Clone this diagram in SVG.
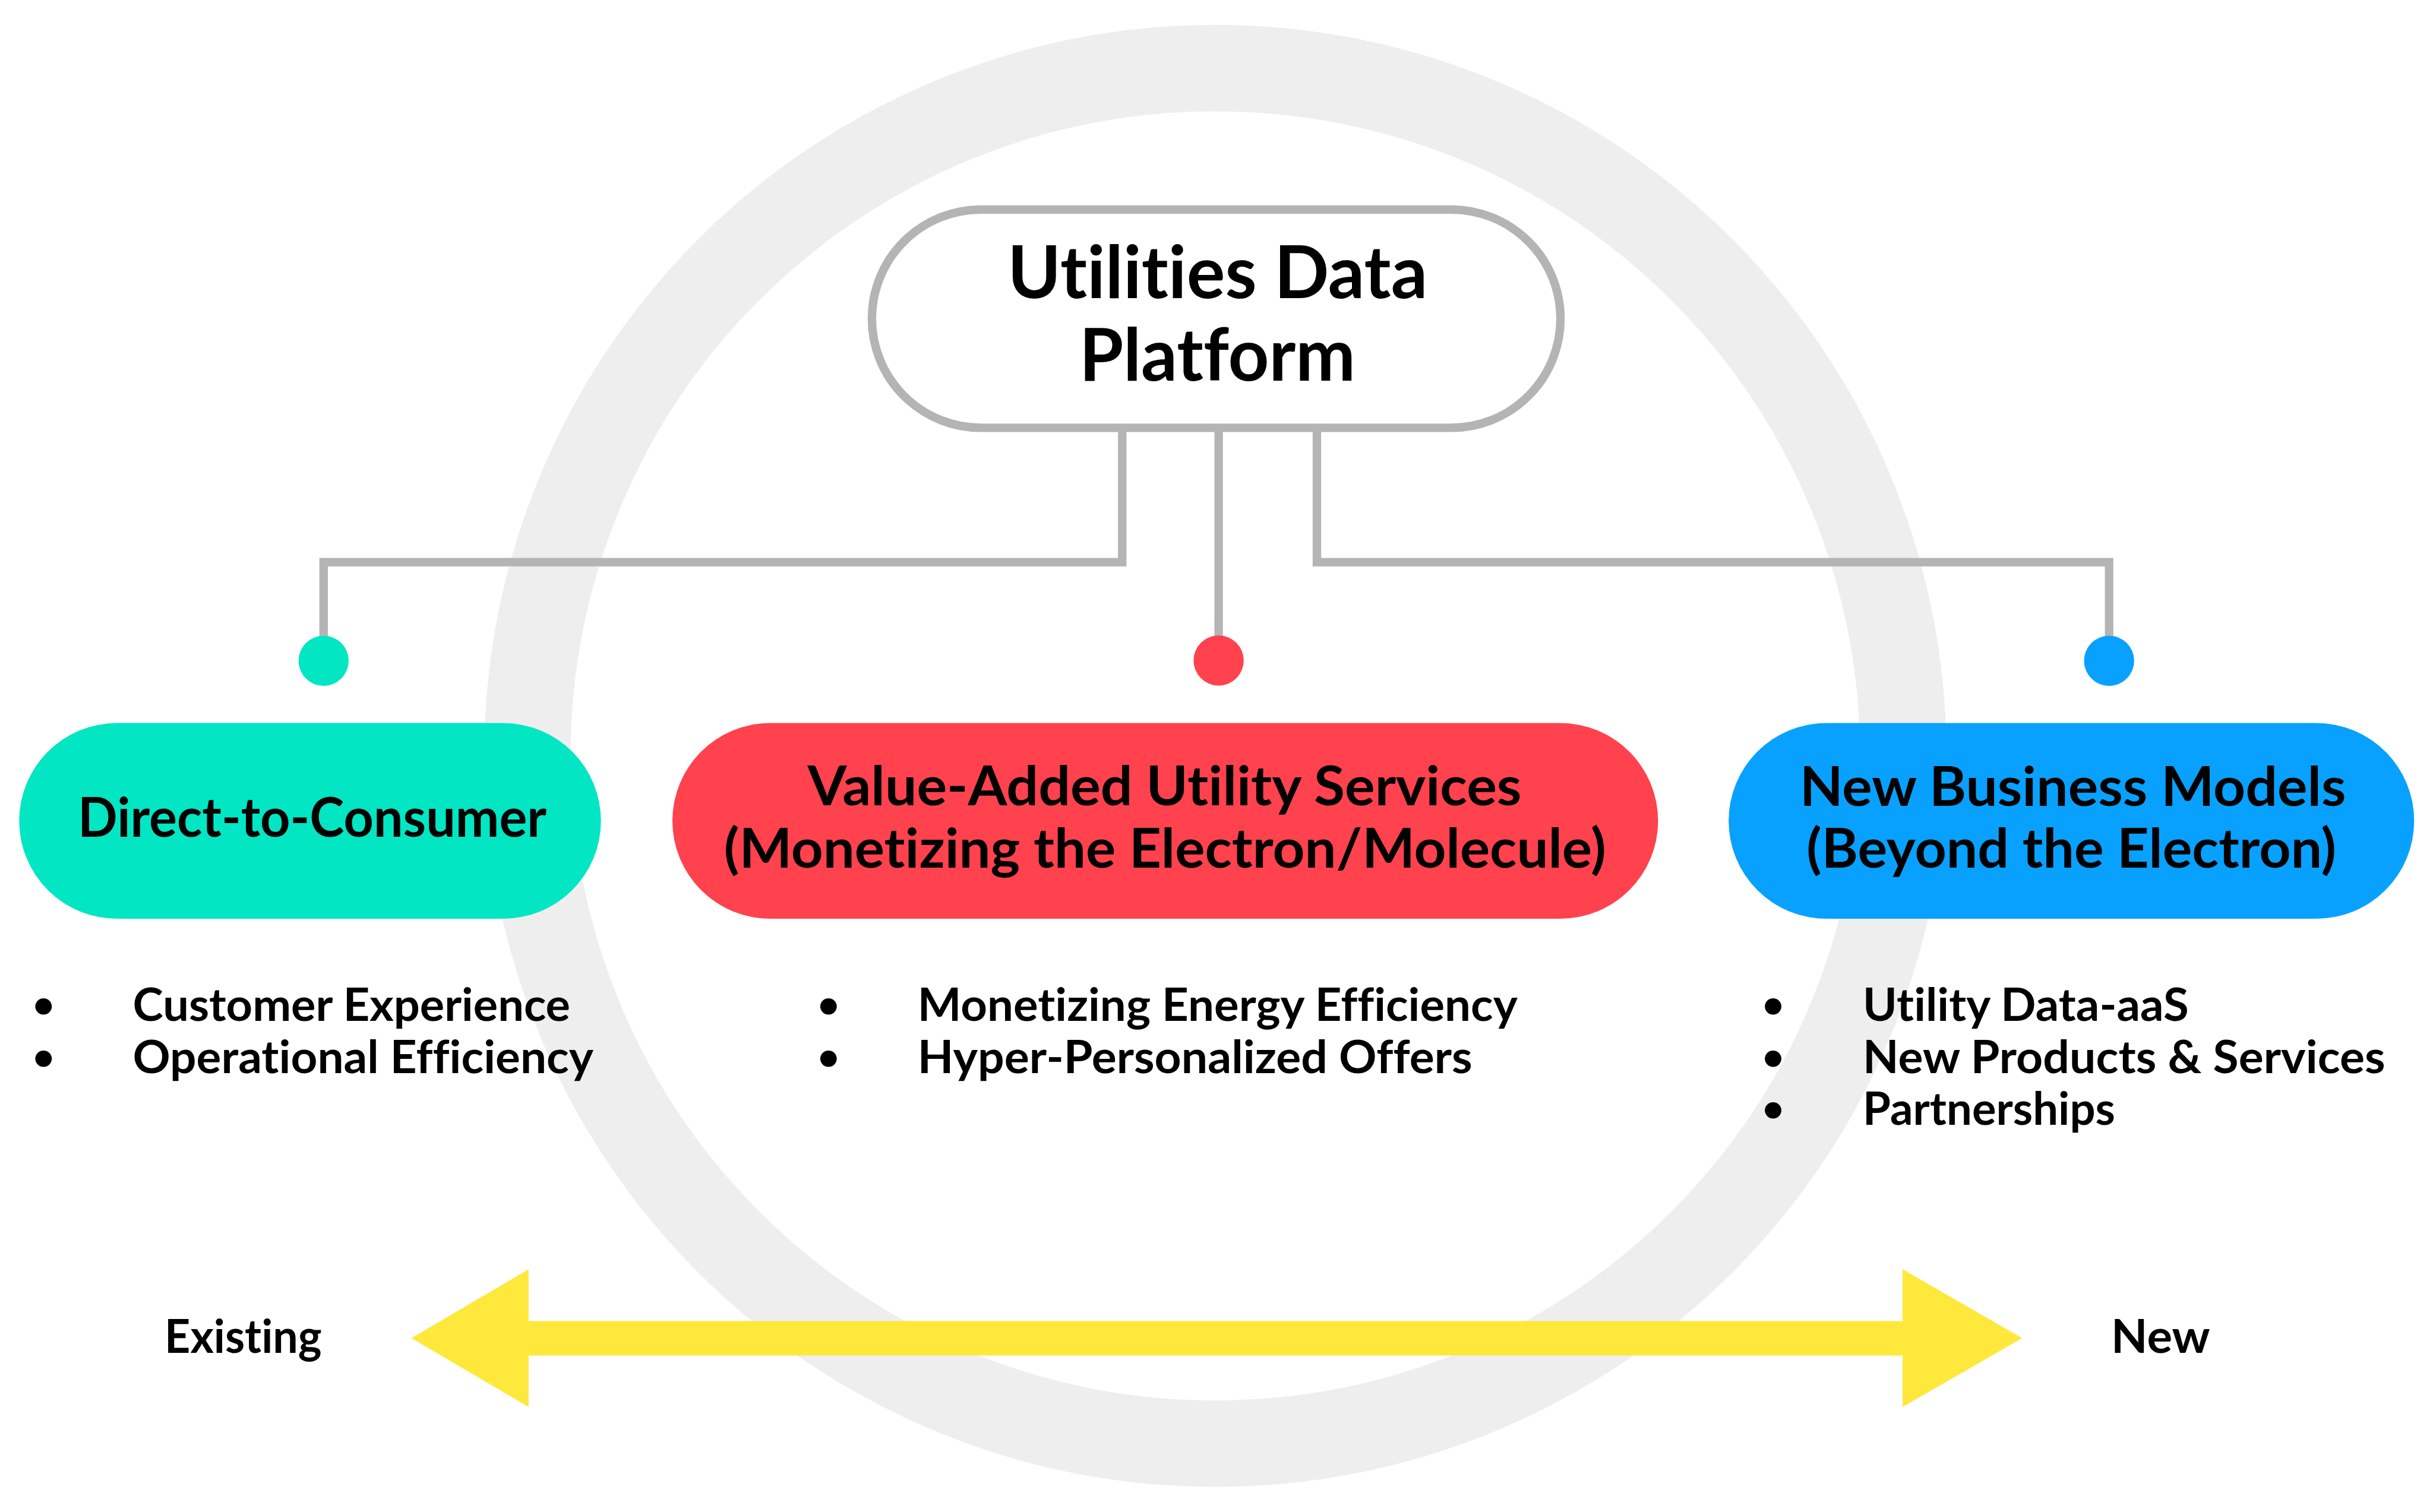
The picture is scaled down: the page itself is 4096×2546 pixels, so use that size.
<svg xmlns="http://www.w3.org/2000/svg" width="4096" height="2546" viewBox="0 0 4096 2546">
<style>
text{font-family:Lato,"Open Sans","Liberation Sans",sans-serif;font-weight:700;fill:#000;font-variant-ligatures:none;font-feature-settings:"liga" 0,"clig" 0}
.title{font-size:122px;text-anchor:middle}
.node{font-size:91px;text-anchor:middle}
.item{font-size:76px}
.bul{font-size:64px;text-anchor:middle}
.axis{font-size:78px}
.conn{fill:none;stroke:#b4b4b4;stroke-width:14.3;stroke-linejoin:miter;stroke-linecap:butt}
</style>
<rect width="4096" height="2546" fill="#ffffff"/>
<g id="ring">
<circle cx="2046" cy="1272.8" r="1158.1" fill="none" stroke="#eeeeee" stroke-width="145.4"/>
</g>
<g id="connectors">
<polyline class="conn" points="1889.3,720 1889.3,946.7 544.8,946.7 544.8,1080"/>
<polyline class="conn" points="2051.6,720 2051.6,1080"/>
<polyline class="conn" points="2217,720 2217,946.7 3550.7,946.7 3550.7,1080"/>
<circle cx="544.8" cy="1112.7" r="42.2" fill="#02e6c4"/>
<circle cx="2051.6" cy="1112.2" r="42.2" fill="#ff424e"/>
<circle cx="3550.7" cy="1112.7" r="42.2" fill="#08a1ff"/>
</g>
<g id="platform">
<rect x="1467.9" y="352.8" width="1159.2" height="367.6" rx="183.8" ry="183.8" fill="#ffffff" stroke="#b4b4b4" stroke-width="14.3"/>
<text class="title" x="2049.7" y="501.8" textLength="707" lengthAdjust="spacingAndGlyphs">Utilities Data</text>
<text class="title" x="2049.5" y="640.5" textLength="465" lengthAdjust="spacingAndGlyphs">Platform</text>
</g>
<g id="direct-to-consumer">
<rect x="32.3" y="1217.5" width="979.4" height="329.5" rx="164.7" ry="164.7" fill="#02e6c4"/>
<text class="node" x="525.6" y="1408.5" textLength="789" lengthAdjust="spacingAndGlyphs">Direct-to-Consumer</text>
<text class="bul" x="73.2" y="1714">•</text>
<text class="item" x="223.5" y="1719.3" textLength="736.5" lengthAdjust="spacingAndGlyphs">Customer Experience</text>
<text class="bul" x="73.2" y="1802">•</text>
<text class="item" x="223.5" y="1807.4" textLength="775.7" lengthAdjust="spacingAndGlyphs">Operational Efficiency</text>
</g>
<g id="value-added">
<rect x="1132" y="1217.5" width="1659.4" height="329.5" rx="164.7" ry="164.7" fill="#ff424e"/>
<text class="node" x="1960.5" y="1356.3" textLength="1202" lengthAdjust="spacingAndGlyphs">Value-Added Utility Services</text>
<text class="node" x="1961.2" y="1461.2" textLength="1485" lengthAdjust="spacingAndGlyphs">(Monetizing the Electron/Molecule)</text>
<text class="bul" x="1394.7" y="1714">•</text>
<text class="item" x="1544.7" y="1719.3" textLength="1010.2" lengthAdjust="spacingAndGlyphs">Monetizing Energy Efficiency</text>
<text class="bul" x="1394.7" y="1802">•</text>
<text class="item" x="1544.7" y="1807.4" textLength="933.9" lengthAdjust="spacingAndGlyphs">Hyper-Personalized Offers</text>
</g>
<g id="new-business">
<rect x="2910.2" y="1217.5" width="1154.1" height="329.5" rx="164.7" ry="164.7" fill="#08a1ff"/>
<text class="node" x="3489.8" y="1356.8" textLength="919.6" lengthAdjust="spacingAndGlyphs">New Business Models</text>
<text class="node" x="3487.2" y="1460.7" textLength="891.9" lengthAdjust="spacingAndGlyphs">(Beyond the Electron)</text>
<text class="bul" x="2985" y="1714">•</text>
<text class="item" x="3136" y="1719.3" textLength="548.9" lengthAdjust="spacingAndGlyphs">Utility Data-aaS</text>
<text class="bul" x="2985" y="1802">•</text>
<text class="item" x="3136" y="1807.4" textLength="879.6" lengthAdjust="spacingAndGlyphs">New Products &amp; Services</text>
<text class="bul" x="2985" y="1888.5">•</text>
<text class="item" x="3136" y="1893.9" textLength="425" lengthAdjust="spacingAndGlyphs">Partnerships</text>
</g>
<g id="axis">
<polygon points="692.7,2253.3 889.9,2137.3 889.9,2224.6 3203.1,2224.6 3203.1,2137.3 3404.3,2253.3 3203.1,2369 3203.1,2282.5 889.9,2282.5 889.9,2369" fill="#fee83c"/>
<text class="axis" x="277" y="2278.4" textLength="264.7" lengthAdjust="spacingAndGlyphs">Existing</text>
<text class="axis" x="3554" y="2278.4" textLength="166.7" lengthAdjust="spacingAndGlyphs">New</text>
</g>
</svg>
